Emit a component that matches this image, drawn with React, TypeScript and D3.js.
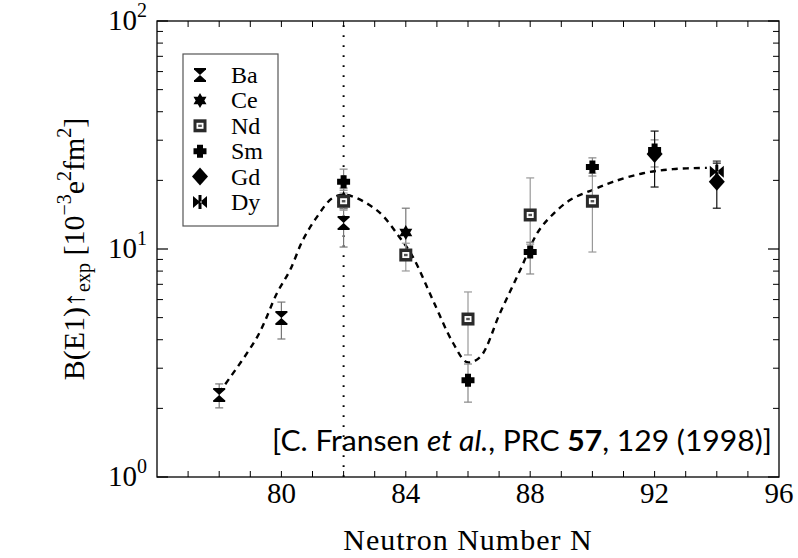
import React from 'react';
import * as d3 from 'd3';

const W = 798;
const H = 558;

// ---- data ----
const baN = [78, 80, 82];
const baVal = [2.29, 4.98, 13.0];
const baLo = [2.01, 4.03, 10.2];
const baHi = [2.56, 5.85, 15.1];

const ceN = [82, 84];
const ceVal = [16.6, 11.8];
const ceLo = [15.0, 9.9];
const ceHi = [18.5, 15.1];

const ndN = [82, 84, 86, 88, 90];
const ndVal = [16.2, 9.41, 4.93, 14.1, 16.2];
const ndLo = [14.8, 8.01, 3.43, 10.5, 9.7];
const ndHi = [17.6, 10.6, 6.48, 20.5, 21.5];

const smN = [82, 86, 88, 90, 92];
const smVal = [19.7, 2.66, 9.7, 22.9, 27.2];
const smLo = [18.1, 2.13, 7.77, 20.9, 22.9];
const smHi = [22.4, 3.13, 10.7, 25.1, 30.1];

const gdN = [92, 94];
const gdVal = [26.1, 19.7];
const gdLo = [18.7, 15.1];
const gdHi = [32.9, 23.8];

const dyN = [94];
const dyVal = [21.8];
const dyLo = [19.5];
const dyHi = [24.3];

const fitN = [77.99, 79.22, 79.86, 80.28, 80.69, 81.14, 81.63, 82.01, 82.43, 83.17, 83.81, 84.23, 84.87, 85.52, 85.97, 86.39, 87.03, 87.68, 88.22, 88.64, 89.28, 90.02, 90.66, 91.63, 92.59, 93.68];
const fitVal = [2.34, 4.11, 6.41, 8.09, 10.95, 13.8, 16.7, 17.3, 16.7, 14.4, 11.2, 9.22, 5.97, 3.87, 3.19, 3.36, 5.24, 8.09, 11.7, 13.8, 16.4, 18.2, 19.7, 21.5, 22.4, 22.7];

const xTickLabels = [80, 84, 88, 92, 96];
const xMinorTicks = d3.range(77, 96);
const yMajor = [1, 10, 100];
const yExp = ['0', '1', '2'];
const yMinor = [2, 3, 4, 5, 6, 7, 8, 9, 20, 30, 40, 50, 60, 70, 80, 90];
const legendNames = ['Ba', 'Ce', 'Nd', 'Sm', 'Gd', 'Dy'];
const shellN = 82;

// ---- marker shapes ----
const hexStar = (() => {
  const R = 7.5;
  const r = R / Math.sqrt(3);
  const pts: string[] = [];
  for (let k = 0; k < 12; k++) {
    const a = -Math.PI / 2 + (k * Math.PI) / 6;
    const rad = k % 2 === 0 ? R : r;
    pts.push(`${(Math.cos(a) * rad).toFixed(2)},${(Math.sin(a) * rad).toFixed(2)}`);
  }
  return 'M' + pts.join('L') + 'Z';
})();

function Marker({ kind, x, y }: { kind: string; x: number; y: number }) {
  const t = `translate(${x},${y})`;
  if (kind === 'Ba') {
    return (
      <g transform={t}>
        <path d="M-6,-7H6V-5H-6Z M-6,5H6V7H-6Z M-5.5,-5L5.5,-5L0,0Z M-5.5,5L5.5,5L0,0Z" fill="#000" />
      </g>
    );
  }
  if (kind === 'Ce') {
    return <path transform={t} d={hexStar} fill="#000" />;
  }
  if (kind === 'Nd') {
    return (
      <g transform={t}>
        <rect x={-6.5} y={-6.5} width={13} height={13} fill="#2a2a2a" />
        <rect x={-3.5} y={-3} width={7} height={6} fill="#fff" />
        <rect x={-1.8} y={-1.2} width={3.6} height={2.4} fill="#555" />
      </g>
    );
  }
  if (kind === 'Sm') {
    return (
      <path
        transform={t}
        d="M-3,-6.5H3V-3H6.5V3H3V6.5H-3V3H-6.5V-3H-3Z"
        fill="#000"
      />
    );
  }
  if (kind === 'Gd') {
    return <path transform={t} d="M0,-9L8,0L0,9L-8,0Z" fill="#000" />;
  }
  return (
    <path
      transform={t}
      d="M-7,-6L0,0L-7,6Z M7,-6L0,0L7,6Z M-1.5,-7H1.5V7H-1.5Z"
      fill="#000"
    />
  );
}

export default function App() {
  const x = d3.scaleLinear().domain([76, 96]).range([157, 779]);
  const y = d3.scaleLog().domain([1, 100]).range([477, 21]);
  const [x0, x1] = x.range();
  const [yb, yt] = y.range();

  const series = [
    { name: 'Ba', n: baN, v: baVal, lo: baLo, hi: baHi, ec: '#777' },
    { name: 'Ce', n: ceN, v: ceVal, lo: ceLo, hi: ceHi, ec: '#777' },
    { name: 'Nd', n: ndN, v: ndVal, lo: ndLo, hi: ndHi, ec: '#999' },
    { name: 'Sm', n: smN, v: smVal, lo: smLo, hi: smHi, ec: '#888' },
    { name: 'Gd', n: gdN, v: gdVal, lo: gdLo, hi: gdHi, ec: '#111' },
    { name: 'Dy', n: dyN, v: dyVal, lo: dyLo, hi: dyHi, ec: '#333' },
  ];

  const fitLine = d3
    .line<number>()
    .x((_, i) => x(fitN[i]))
    .y((d) => y(d))
    .curve(d3.curveCatmullRom.alpha(0.5))(fitVal) as string;

  const serif = "'Liberation Serif', 'Times New Roman', serif";
  const cap = 4;

  return (
    <svg
      width={W}
      height={H}
      style={{ position: 'absolute', left: 0, top: 0, background: '#fff' }}
      fontFamily={serif}
    >
      <rect x={0} y={0} width={W} height={H} fill="#fff" />

      {/* ticks */}
      {xMinorTicks.map((t) => (
        <g key={'xt' + t} stroke="#000" strokeWidth={1}>
          <line x1={x(t)} x2={x(t)} y1={yb} y2={yb - 6} />
          <line x1={x(t)} x2={x(t)} y1={yt} y2={yt + 6} />
        </g>
      ))}
      {yMinor.map((t) => (
        <g key={'ym' + t} stroke="#000" strokeWidth={1}>
          <line x1={x0} x2={x0 + 6} y1={y(t)} y2={y(t)} />
          <line x1={x1} x2={x1 - 6} y1={y(t)} y2={y(t)} />
        </g>
      ))}
      {yMajor.map((t) => (
        <g key={'yM' + t} stroke="#000" strokeWidth={1.2}>
          <line x1={x0} x2={x0 + 11} y1={y(t)} y2={y(t)} />
          <line x1={x1} x2={x1 - 11} y1={y(t)} y2={y(t)} />
        </g>
      ))}

      {/* frame */}
      <rect x={x0} y={yt} width={x1 - x0} height={yb - yt} fill="none" stroke="#000" strokeWidth={1.3} />

      {/* shell closure line */}
      <line
        x1={x(shellN)}
        x2={x(shellN)}
        y1={yb}
        y2={yt}
        stroke="#000"
        strokeWidth={2}
        strokeDasharray="1.8,8.2"
      />

      {/* fit curve */}
      <path d={fitLine} fill="none" stroke="#000" strokeWidth={2.4} strokeDasharray="6,5" />

      {/* error bars */}
      {series.map((s) =>
        s.n.map((n, i) => {
          const cx = x(n);
          return (
            <g key={s.name + 'e' + i} stroke={s.ec} strokeWidth={1.2}>
              <line x1={cx} x2={cx} y1={y(s.lo[i])} y2={y(s.hi[i])} />
              <line x1={cx - cap} x2={cx + cap} y1={y(s.lo[i])} y2={y(s.lo[i])} />
              <line x1={cx - cap} x2={cx + cap} y1={y(s.hi[i])} y2={y(s.hi[i])} />
            </g>
          );
        })
      )}

      {/* markers */}
      {series.map((s) =>
        s.n.map((n, i) => <Marker key={s.name + 'm' + i} kind={s.name} x={x(n)} y={y(s.v[i])} />)
      )}

      {/* legend */}
      <rect x={183} y={54} width={95} height={172} fill="#fff" stroke="#555" strokeWidth={1.2} />
      {legendNames.map((nm, i) => (
        <g key={'lg' + nm}>
          <Marker kind={nm} x={200} y={75 + i * 25.4} />
          <text x={231} y={75 + i * 25.4 + 8} fontSize={24} fill="#000">
            {nm}
          </text>
        </g>
      ))}

      {/* x tick labels */}
      {xTickLabels.map((t) => (
        <text key={'xl' + t} x={x(t)} y={503} fontSize={29} textAnchor="middle" fill="#000">
          {t}
        </text>
      ))}

      {/* y tick labels */}
      {yMajor.map((t, i) => (
        <text key={'yl' + t} x={147} y={y(t) + 9} fontSize={29} textAnchor="end" fill="#000">
          10
          <tspan dy={-13} fontSize={20}>
            {yExp[i]}
          </tspan>
        </text>
      ))}

      {/* x title */}
      <text x={468} y={550} fontSize={30} textAnchor="middle" fill="#000" letterSpacing={1}>
        Neutron Number N
      </text>

      {/* y title */}
      <g transform={`translate(84,${(yb + yt) / 2}) rotate(-90)`}>
        <text x={0} y={0} fontSize={30} textAnchor="middle" fill="#000">
          B(E1)↑
          <tspan dy={6} fontSize={20}>exp</tspan>
          <tspan dy={-6}> [10</tspan>
          <tspan dy={-13} fontSize={20}>−3</tspan>
          <tspan dy={13}>e</tspan>
          <tspan dy={-13} fontSize={20}>2</tspan>
          <tspan dy={13}>fm</tspan>
          <tspan dy={-13} fontSize={20}>2</tspan>
          <tspan dy={13}>]</tspan>
        </text>
      </g>

      {/* citation */}
      <text x={272} y={451} fontSize={28} fill="#000" fontFamily="Lato, 'Liberation Sans', sans-serif" textLength={500} lengthAdjust="spacingAndGlyphs">
        [C. Fransen <tspan fontStyle="italic">et al.</tspan>, PRC <tspan fontWeight="bold">57</tspan>, 129 (1998)]
      </text>
    </svg>
  );
}
